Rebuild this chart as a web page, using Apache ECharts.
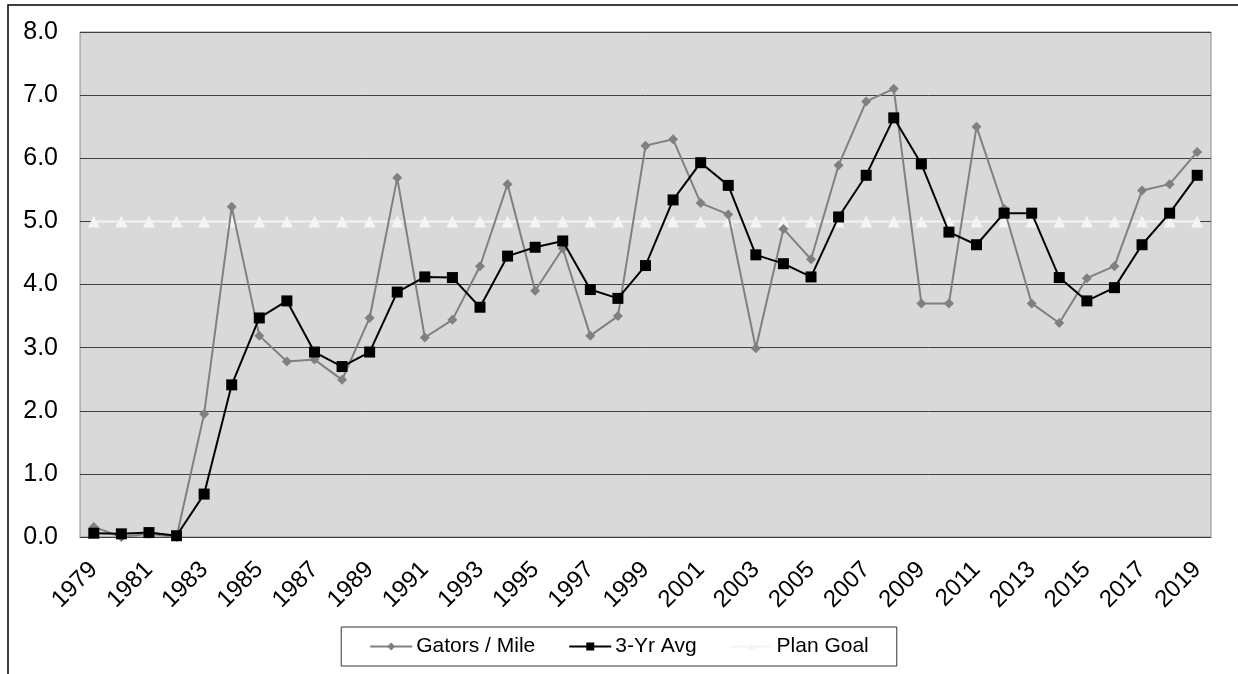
<!DOCTYPE html>
<html>
<head>
<meta charset="utf-8">
<script src="https://cdn.jsdelivr.net/npm/echarts@6/dist/echarts.min.js"></script>
<style>
html,body{margin:0;padding:0;background:#fff;}
#chart{width:1238px;height:674px;}
</style>
</head>
<body>
<div id="chart"></div>
<script>
const years = [];
for (let y = 1979; y <= 2019; y++) years.push(String(y));

const gatorsPerMile = [0.16, 0.0, 0.05, 0.0, 1.95, 5.23, 3.19, 2.78, 2.81, 2.49, 3.47, 5.69,
  3.16, 3.44, 4.29, 5.59, 3.90, 4.57, 3.19, 3.50, 6.20, 6.30, 5.29, 5.11, 2.99, 4.88, 4.40,
  5.89, 6.90, 7.10, 3.70, 3.70, 6.50, 5.20, 3.70, 3.39, 4.10, 4.29, 5.49, 5.59, 6.10];

const threeYrAvg = [0.06, 0.05, 0.07, 0.02, 0.68, 2.41, 3.47, 3.74, 2.93, 2.70, 2.93, 3.88,
  4.12, 4.11, 3.64, 4.45, 4.59, 4.69, 3.92, 3.78, 4.30, 5.34, 5.93, 5.57, 4.47, 4.33, 4.12,
  5.07, 5.73, 6.64, 5.91, 4.83, 4.63, 5.13, 5.13, 4.11, 3.74, 3.95, 4.63, 5.13, 5.73];

const planGoal = years.map(() => 5.0);

const yTicks = { min: 0, max: 8, interval: 1 };

const chart = echarts.init(document.getElementById('chart'));
const font = 'Liberation Sans, Arial, sans-serif';
chart.setOption({
  animation: false,
  backgroundColor: '#ffffff',
  graphic: [{
    type: 'rect', silent: true,
    shape: { x: 8, y: 5, width: 1400, height: 800 },
    style: { fill: 'none', stroke: '#000', lineWidth: 1.5 }
  }],
  grid: {
    left: 80, right: 27, top: 32, bottom: 137,
    show: true, backgroundColor: '#d9d9d9', borderColor: '#8c8c8c', borderWidth: 1
  },
  legend: {
    bottom: 8, left: 'center',
    itemGap: 33, itemWidth: 42, itemHeight: 10,
    padding: [9, 28, 9, 28],
    borderColor: '#333', borderWidth: 1,
    textStyle: { fontFamily: font, fontSize: 21, color: '#000', padding: [0, 0, 0, -1] },
    data: ['Gators / Mile', '3-Yr Avg', 'Plan Goal']
  },
  xAxis: {
    type: 'category', data: years, boundaryGap: true,
    axisLine: { show: true, lineStyle: { color: '#404040', width: 1 } },
    axisTick: { show: false },
    axisLabel: { interval: 1, rotate: 45, fontFamily: font, fontSize: 24, color: '#000', margin: 29 }
  },
  yAxis: {
    type: 'value', min: yTicks.min, max: yTicks.max, interval: yTicks.interval,
    axisLine: { show: false },
    axisTick: { show: false },
    axisLabel: { formatter: v => v.toFixed(1), fontFamily: font, fontSize: 25, color: '#000', margin: 22 },
    splitLine: { lineStyle: { color: '#404040', width: 1 } }
  },
  series: [
    {
      name: 'Plan Goal', type: 'line', data: planGoal, z: 2,
      symbol: 'triangle', symbolSize: 12,
      lineStyle: { color: '#f4f4f4', width: 2 },
      itemStyle: { color: '#f4f4f4' }
    },
    {
      name: 'Gators / Mile', type: 'line', data: gatorsPerMile, z: 3,
      symbol: 'diamond', symbolSize: 10,
      lineStyle: { color: '#808080', width: 2 },
      itemStyle: { color: '#808080' }
    },
    {
      name: '3-Yr Avg', type: 'line', data: threeYrAvg, z: 4,
      symbol: 'rect', symbolSize: 11,
      lineStyle: { color: '#000', width: 2 },
      itemStyle: { color: '#000' }
    }
  ]
});
</script>
</body>
</html>
